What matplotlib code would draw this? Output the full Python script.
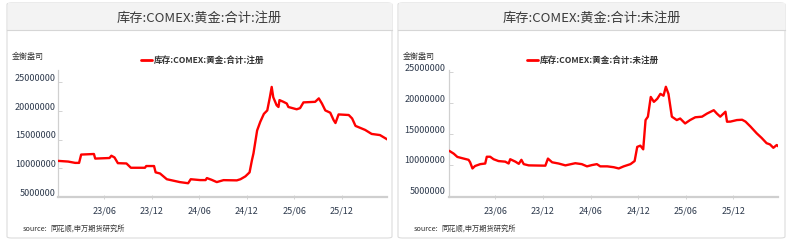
import matplotlib
matplotlib.use("Agg")
import matplotlib.pyplot as plt
from matplotlib.patches import FancyBboxPatch, Rectangle
from matplotlib.lines import Line2D
from matplotlib.transforms import ScaledTranslation
import pandas as pd

plt.rcParams['font.family'] = ['Noto Sans CJK SC', 'DejaVu Sans']

# ---------------- data ----------------
reg_dates = ["2022-12-06", "2023-01-14", "2023-02-10", "2023-02-25", "2023-03-05", "2023-04-23",
             "2023-04-28", "2023-06-22", "2023-06-29", "2023-07-11", "2023-07-24", "2023-08-26",
             "2023-09-12", "2023-11-05", "2023-11-10", "2023-12-10", "2023-12-16", "2024-01-02",
             "2024-01-15", "2024-01-28", "2024-02-22", "2024-03-18", "2024-04-19", "2024-04-29",
             "2024-06-04", "2024-06-25", "2024-06-30", "2024-07-18", "2024-08-07", "2024-09-02",
             "2024-10-23", "2024-11-06", "2024-11-25", "2024-12-11", "2024-12-20", "2024-12-26",
             "2025-01-02", "2025-01-09", "2025-01-21", "2025-02-04", "2025-02-17", "2025-02-27",
             "2025-03-06", "2025-03-12", "2025-03-25", "2025-04-01", "2025-04-05", "2025-04-20",
             "2025-05-03", "2025-05-09", "2025-06-10", "2025-06-23", "2025-07-06", "2025-08-20",
             "2025-09-03", "2025-09-15", "2025-09-28", "2025-10-17", "2025-10-30", "2025-11-06",
             "2025-11-18", "2025-12-27", "2026-01-09", "2026-01-22", "2026-02-28", "2026-03-25",
             "2026-04-26", "2026-05-22"]
reg_values = [11.3, 11.18, 10.95, 10.95, 12.4, 12.5,
              11.7, 11.8, 12.2, 11.9, 10.9, 10.85,
              10.1, 10.1, 10.4, 10.4, 9.3, 9.1,
              8.6, 8.1, 7.85, 7.6, 7.4, 8.1,
              7.95, 7.95, 8.3, 8.0, 7.6, 7.94,
              7.9, 8.1, 8.6, 9.3, 11.4, 12.6,
              14.6, 16.6, 18.1, 19.5, 20.1, 22.4,
              24.2, 22.4, 21.0, 20.7, 21.9, 21.6,
              21.3, 20.7, 20.3, 20.5, 21.5, 21.6,
              22.2, 21.3, 20.1, 19.7, 18.4, 17.9,
              19.4, 19.3, 18.7, 17.4, 16.7, 16.0,
              15.8, 15.1]

unreg_dates = ["2022-12-08", "2022-12-23", "2023-01-06", "2023-01-25", "2023-02-18", "2023-02-24",
               "2023-03-05", "2023-03-15", "2023-04-04", "2023-04-23", "2023-04-29", "2023-05-12",
               "2023-05-25", "2023-06-13", "2023-07-09", "2023-07-22", "2023-07-28", "2023-08-17",
               "2023-08-30", "2023-09-09", "2023-09-18", "2023-10-07", "2023-12-10", "2023-12-20",
               "2024-01-05", "2024-01-30", "2024-02-25", "2024-04-03", "2024-04-28", "2024-05-18",
               "2024-06-06", "2024-06-25", "2024-07-08", "2024-08-04", "2024-08-29", "2024-09-17",
               "2024-10-06", "2024-11-01", "2024-11-17", "2024-11-27", "2024-12-09", "2024-12-20",
               "2024-12-29", "2025-01-07", "2025-01-18", "2025-01-30", "2025-02-12", "2025-02-24",
               "2025-03-08", "2025-03-17", "2025-03-27", "2025-04-09", "2025-04-28", "2025-05-11",
               "2025-05-30", "2025-06-18", "2025-07-08", "2025-08-03", "2025-08-22", "2025-09-17",
               "2025-09-29", "2025-10-12", "2025-11-01", "2025-11-07", "2025-11-20", "2025-12-15",
               "2026-01-04", "2026-01-17", "2026-02-05", "2026-03-01", "2026-03-20", "2026-04-08",
               "2026-04-21", "2026-05-04", "2026-05-17", "2026-05-23"]
unreg_values = [12.2, 11.8, 11.27, 11.06, 10.8, 10.4,
                9.4, 9.8, 10.1, 10.2, 11.3, 11.3,
                10.9, 10.6, 10.5, 10.2, 10.9, 10.5,
                10.15, 10.8, 10.1, 9.9, 9.85, 11.0,
                10.4, 10.2, 9.9, 10.25, 10.1, 9.74,
                9.95, 10.1, 9.74, 9.74, 9.6, 9.4,
                9.74, 10.1, 10.6, 12.9, 13.1, 12.5,
                17.25, 17.8, 21.0, 20.2, 20.7, 21.5,
                21.2, 22.65, 21.5, 17.8, 17.25, 17.5,
                16.7, 17.25, 17.7, 17.8, 18.3, 18.85,
                18.3, 17.8, 18.6, 16.98, 17.0, 17.25,
                17.3, 17.0, 16.2, 15.1, 14.35, 13.5,
                13.3, 12.75, 13.2, 13.0]

titles = ["库存:COMEX:黄金:合计:注册", "库存:COMEX:黄金:合计:未注册"]
legend_labels = ["库存:COMEX:黄金:合计:注册", "库存:COMEX:黄金:合计:未注册"]
unit_label = "金衡盎司"
source_label = "source:"
source_name = "同花顺,申万期货研究所"
x_tick_dates = ["2023-06-01", "2023-12-01", "2024-06-01", "2024-12-01", "2025-06-01", "2025-12-01"]
x_tick_labels = ["23/06", "23/12", "24/06", "24/12", "25/06", "25/12"]
y_ticks = [5000000, 10000000, 15000000, 20000000, 25000000]
y_tick_labels = ["5000000", "10000000", "15000000", "20000000", "25000000"]

# ---------------- figure ----------------
W, H = 789, 242
fig = plt.figure(figsize=(W / 100, H / 100), dpi=100)
fig.patch.set_facecolor("white")


def fx(x):
    return x / W


def fy(y):
    return 1 - y / H


TXT = "#333333"
TICK = "#2e3a4d"
RED = "#ff0000"

panels = [
    dict(x0=7, x1=392, ax=(58, 387), ylim=(5.0e6, 27.15e6), dates=reg_dates, vals=reg_values,
         unit_x=12, src_x=23, leg_x=141, ypad=1.5),
    dict(x0=398, x1=785, ax=(449.3, 778.3), ylim=(4.77e6, 25.37e6), dates=unreg_dates, vals=unreg_values,
         unit_x=403, src_x=414, leg_x=527, ypad=3.0),
]

xlim = (pd.Timestamp("2022-12-06"), pd.Timestamp("2026-05-23"))

for i, p in enumerate(panels):
    x0, x1 = p["x0"], p["x1"]
    y0, y1 = 3, 238
    frame = FancyBboxPatch((fx(x0), fy(y1)), fx(x1) - fx(x0), fy(y0) - fy(y1),
                           boxstyle="round,pad=0,rounding_size=0.006",
                           transform=fig.transFigure, facecolor="white",
                           edgecolor="#dcdcdc", linewidth=0.8, zorder=-5)
    fig.patches.append(frame)
    header = Rectangle((fx(x0 + 0.5), fy(30)), fx(x1 - 0.5) - fx(x0 + 0.5), fy(3.5) - fy(30),
                       transform=fig.transFigure, facecolor="#f3f3f3", edgecolor="none", zorder=-4)
    fig.patches.append(header)
    fig.lines.append(Line2D([fx(x0), fx(x1)], [fy(30), fy(30)], transform=fig.transFigure,
                            color="#d6d6d6", linewidth=0.8, zorder=-3))
    fig.text(fx((x0 + x1) / 2), fy(18), titles[i], ha="center", va="center",
             fontsize=9.5, color="#3a3a3a")

    fig.text(fx(p["unit_x"]), fy(57), unit_label, ha="left", va="center", fontsize=5.8, color=TXT)
    lx = p["leg_x"]
    fig.lines.append(Line2D([fx(lx), fx(lx + 11)], [fy(60), fy(60)], transform=fig.transFigure,
                            color=RED, linewidth=2.0, solid_capstyle="round"))
    fig.text(fx(lx + 13), fy(60), legend_labels[i], ha="left", va="center", fontsize=6.2,
             color=TXT, fontweight="bold")
    fig.text(fx(p["src_x"]), fy(229), source_label, ha="left", va="center", fontsize=5.2, color=TXT)
    fig.text(fx(p["src_x"] + 27), fy(229), source_name, ha="left", va="center",
             fontsize=5.2, color=TXT, style="italic")

    ax_x0, ax_x1 = p["ax"]
    ax = fig.add_axes([fx(ax_x0), fy(197), fx(ax_x1) - fx(ax_x0), fy(70) - fy(197)])
    ax.set_zorder(5)
    ax.set_facecolor("none")
    d = pd.to_datetime(p["dates"])
    ax.plot(d, [v * 1e6 for v in p["vals"]],
            color=RED, linewidth=1.7, solid_joinstyle="round", zorder=3)
    ax.set_xlim(*xlim)
    ax.set_ylim(*p["ylim"])
    for s in ["top", "right"]:
        ax.spines[s].set_visible(False)
    ax.spines["left"].set_color("#d0d0d0")
    ax.spines["left"].set_linewidth(0.9)
    ax.spines["bottom"].set_color("#cfcfcf")
    ax.spines["bottom"].set_linewidth(1.6)
    ax.set_xticks(pd.to_datetime(x_tick_dates))
    ax.set_xticklabels(x_tick_labels)
    ax.set_yticks(y_ticks)
    ax.set_yticklabels(y_tick_labels)
    ax.tick_params(axis="x", length=3, width=0.6, color="#cccccc", direction="inout",
                   labelsize=6.5, labelcolor=TICK, pad=5)
    ax.tick_params(axis="y", length=3, width=0.6, color="#cccccc", direction="in",
                   labelsize=6.5, labelcolor=TICK, pad=p["ypad"])
    off = ScaledTranslation(0, 3.5 / 72, fig.dpi_scale_trans)
    for lab in ax.get_yticklabels():
        lab.set_transform(lab.get_transform() + off)

fig.savefig("out.png", dpi=100, facecolor="white")
